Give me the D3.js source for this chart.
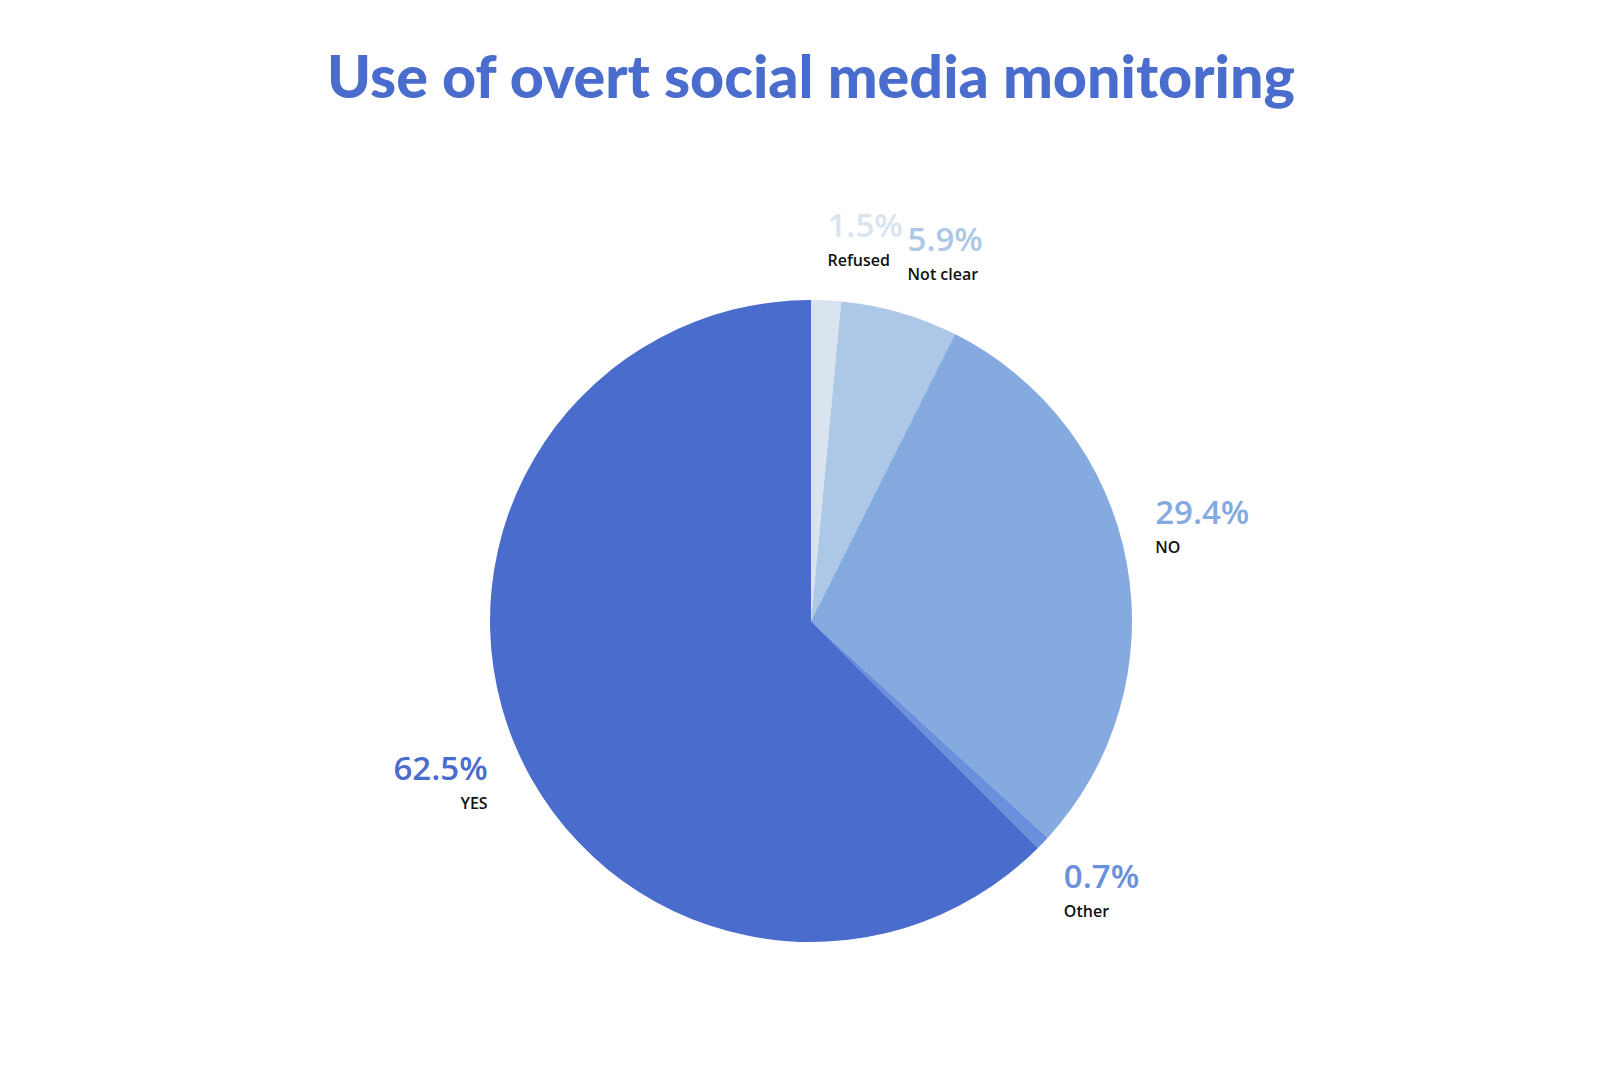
<!DOCTYPE html>
<html>
<head>
<meta charset="utf-8">
<script src="https://cdn.jsdelivr.net/npm/d3@7"></script>
<style>
  html, body { margin: 0; padding: 0; background: #ffffff; }
  svg { display: block; }
</style>
</head>
<body>
<svg id="chart" width="1622" height="1080"></svg>
<script>
const categories = ["Refused", "Not clear", "NO", "Other", "YES"];
const values = [1.5, 5.9, 29.4, 0.7, 62.5];
const valueLabels = ["1.5%", "5.9%", "29.4%", "0.7%", "62.5%"];
const colors = ["#dae4ef", "#adc8e6", "#84aadf", "#6a8fdc", "#4a6ccd"];
const title = "Use of overt social media monitoring";

const W = 1622, H = 1080;
const cx = 811, cy = 621, R = 321, labelR = 350;

const svg = d3.select("#chart");
svg.append("rect").attr("width", W).attr("height", H).attr("fill", "#ffffff");

// Title
const t = svg.append("text")
  .attr("x", cx).attr("y", 98)
  .attr("text-anchor", "middle")
  .attr("font-family", "Lato, 'Open Sans', sans-serif")
  .attr("font-weight", 900)
  .attr("font-size", 56)
  .attr("fill", "#4a6ccd")
  .text(title);
const tw = t.node().getComputedTextLength();
t.attr("font-size", 56 * 968 / tw);

const data = categories.map((c, i) => ({ cat: c, value: values[i], label: valueLabels[i], color: colors[i] }));

const pie = d3.pie().value(d => d.value).sort(null);
const arcs = pie(data);
const arc = d3.arc().innerRadius(0).outerRadius(R);
const labelArc = d3.arc().innerRadius(labelR).outerRadius(labelR);

const g = svg.append("g").attr("transform", `translate(${cx},${cy})`);
g.selectAll("path.slice").data(arcs).join("path")
  .attr("class", "slice")
  .attr("d", arc)
  .attr("fill", d => d.data.color);

const lbl = g.selectAll("g.lbl").data(arcs).join("g")
  .attr("class", "lbl")
  .attr("transform", d => {
    const [x, y] = labelArc.centroid(d);
    return `translate(${x},${y})`;
  });

const midA = d => (d.startAngle + d.endAngle) / 2;
const anchorOf = d => (midA(d) > Math.PI ? "end" : "start");
// upper half: block sits above the anchor point; lower half: block hangs below it
const upper = d => Math.cos(midA(d)) > 0;

lbl.append("text")
  .attr("y", d => upper(d) ? -34 : 25)
  .attr("text-anchor", anchorOf)
  .attr("font-family", "'Open Sans', Lato, sans-serif")
  .attr("font-weight", 600)
  .attr("font-size", 33)
  .attr("fill", d => d.data.color)
  .text(d => d.data.label);

lbl.append("text")
  .attr("y", d => upper(d) ? -5 : 54)
  .attr("text-anchor", anchorOf)
  .attr("font-family", "'Open Sans', Lato, sans-serif")
  .attr("font-weight", 600)
  .attr("font-size", 16)
  .attr("fill", "#111111")
  .text(d => d.data.cat);
</script>
</body>
</html>
